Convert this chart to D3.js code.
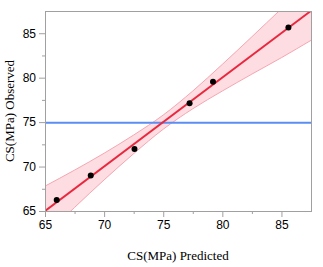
<!DOCTYPE html>
<html>
<head>
<meta charset="utf-8">
<script src="https://cdn.jsdelivr.net/npm/d3@7"></script>
<style>
  body { margin: 0; background: #fff; }
  .tick text { font-family: "Liberation Sans", Arial, sans-serif; font-size: 12px; fill: #000; }
  .axis-title { font-family: "Liberation Serif", "Times New Roman", serif; font-size: 13px; fill: #000; }
</style>
</head>
<body>
<svg id="chart" width="323" height="267"></svg>
<script>
  // observed vs predicted points
  const predicted = [65.99, 68.87, 72.57, 77.23, 79.21, 85.59];
  const observed = [66.24, 68.98, 71.98, 77.13, 79.53, 85.64];

  // confidence band
  const bandX = [65, 67.5, 70, 72.5, 75, 77.5, 80, 82.5, 85, 87.5];
  const bandLower = [62.2, 65.4, 68.5, 71.45, 74.2, 76.5, 78.5, 80.4, 82.25, 84.2];
  const bandUpper = [67.8, 69.6, 71.5, 73.55, 75.8, 78.5, 81.5, 84.6, 87.75, 90.8];

  const majorTicks = [65, 70, 75, 80, 85];
  const minorTicks = [67.5, 72.5, 77.5, 82.5];
  const domain = [65, 87.5];

  const svg = d3.select("#chart");
  const margin = { left: 45, right: 12, top: 11, bottom: 56 };
  const width = +svg.attr("width");
  const height = +svg.attr("height");

  const x = d3.scaleLinear().domain(domain).range([margin.left, width - margin.right]);
  const y = d3.scaleLinear().domain(domain).range([height - margin.bottom, margin.top]);

  svg.append("clipPath").attr("id", "plotclip")
    .append("rect")
    .attr("x", margin.left).attr("y", margin.top)
    .attr("width", x(domain[1]) - x(domain[0]))
    .attr("height", y(domain[0]) - y(domain[1]));

  const plot = svg.append("g").attr("clip-path", "url(#plotclip)");

  // band
  const band = bandX.map((v, i) => ({ x: v, lo: bandLower[i], hi: bandUpper[i] }));
  plot.append("path")
    .datum(band)
    .attr("fill", "#fddde2")
    .attr("d", d3.area().x(d => x(d.x)).y0(d => y(d.lo)).y1(d => y(d.hi)).curve(d3.curveMonotoneX));
  [d => d.lo, d => d.hi].forEach(acc => {
    plot.append("path")
      .datum(band)
      .attr("fill", "none")
      .attr("stroke", "#f5a6b1")
      .attr("stroke-width", 1)
      .attr("d", d3.line().x(d => x(d.x)).y(d => y(acc(d))).curve(d3.curveMonotoneX));
  });

  // mean of observed
  const meanY = d3.mean(observed);
  plot.append("line")
    .attr("x1", x(domain[0])).attr("x2", x(domain[1]))
    .attr("y1", y(meanY)).attr("y2", y(meanY))
    .attr("stroke", "#5b8ef2").attr("stroke-width", 2);

  // least squares fit
  const mx = d3.mean(predicted), my = d3.mean(observed);
  const sxy = d3.sum(predicted, (v, i) => (v - mx) * (observed[i] - my));
  const sxx = d3.sum(predicted, v => (v - mx) * (v - mx));
  const slope = sxy / sxx, icpt = my - slope * mx;
  plot.append("line")
    .attr("x1", x(domain[0])).attr("y1", y(icpt + slope * domain[0]))
    .attr("x2", x(domain[1])).attr("y2", y(icpt + slope * domain[1]))
    .attr("stroke", "#e8283f").attr("stroke-width", 2);

  plot.selectAll("circle")
    .data(predicted)
    .enter().append("circle")
    .attr("cx", d => x(d))
    .attr("cy", (d, i) => y(observed[i]))
    .attr("r", 3)
    .attr("fill", "#000");

  // axes
  svg.append("g").attr("transform", `translate(0,${y(domain[0])})`)
    .call(d3.axisBottom(x).tickValues(majorTicks).tickSize(6).tickPadding(3).tickFormat(d3.format("d")));
  svg.append("g").attr("transform", `translate(0,${y(domain[0])})`)
    .call(d3.axisBottom(x).tickValues(minorTicks).tickSize(3).tickFormat(""));
  svg.append("g").attr("transform", `translate(${x(domain[0])},0)`)
    .call(d3.axisLeft(y).tickValues(majorTicks).tickSize(6).tickPadding(3).tickFormat(d3.format("d")));
  svg.append("g").attr("transform", `translate(${x(domain[0])},0)`)
    .call(d3.axisLeft(y).tickValues(minorTicks).tickSize(3).tickFormat(""));
  svg.selectAll(".domain").remove();
  svg.selectAll(".tick line").attr("stroke", "#a0a0a0");

  // frame
  svg.append("rect")
    .attr("x", x(domain[0]) + 0.5).attr("y", y(domain[1]) + 0.5)
    .attr("width", x(domain[1]) - x(domain[0]))
    .attr("height", y(domain[0]) - y(domain[1]))
    .attr("fill", "none").attr("stroke", "#a0a0a0");

  svg.append("text").attr("class", "axis-title")
    .attr("x", (x(domain[0]) + x(domain[1])) / 2)
    .attr("y", 260)
    .attr("text-anchor", "middle")
    .text("CS(MPa) Predicted");

  svg.append("text").attr("class", "axis-title")
    .attr("transform", `translate(14,${(y(domain[0]) + y(domain[1])) / 2}) rotate(-90)`)
    .attr("text-anchor", "middle")
    .text("CS(MPa) Observed");
</script>
</body>
</html>
